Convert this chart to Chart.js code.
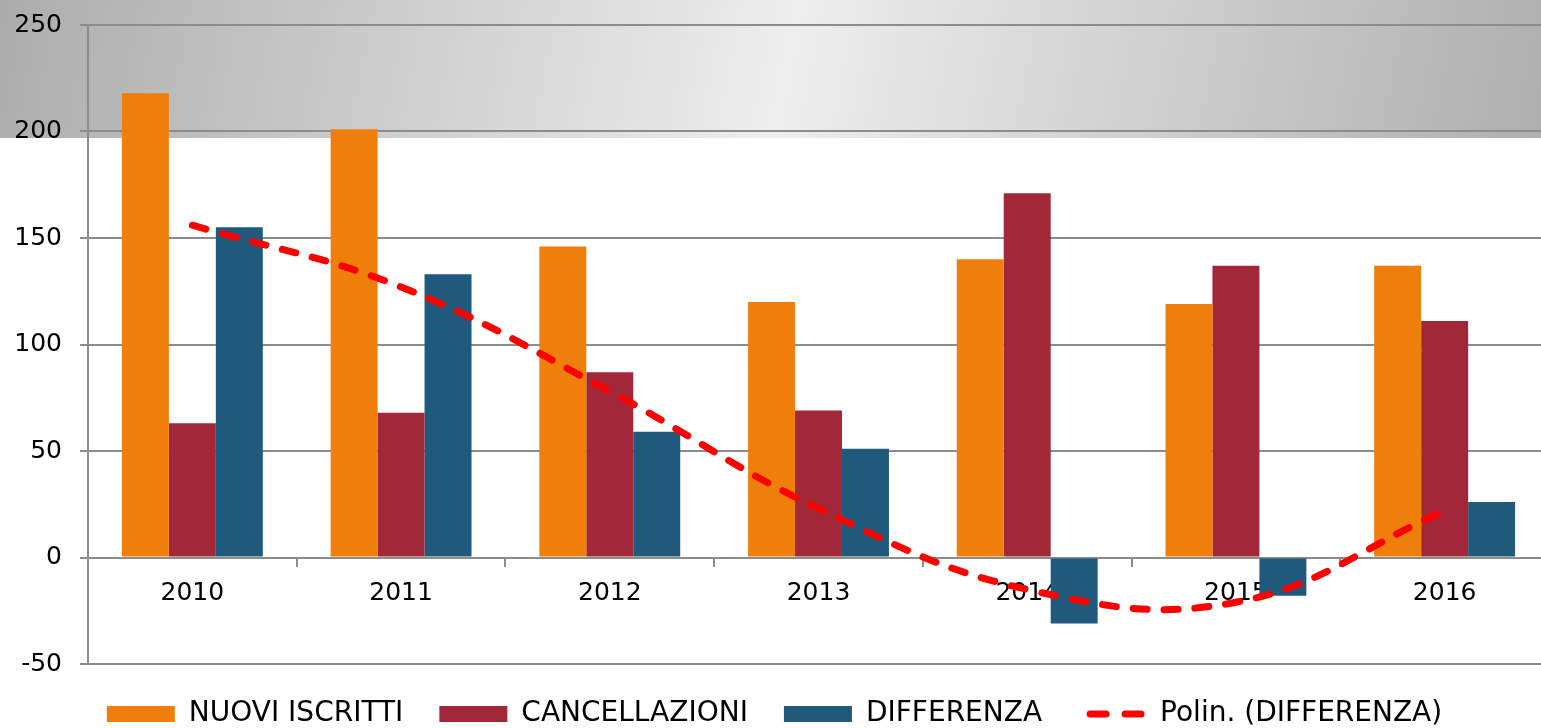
<!DOCTYPE html>
<html lang="it">
<head>
<meta charset="utf-8">
<title>Nuovi iscritti e cancellazioni 2010-2016</title>
<script src="https://cdn.jsdelivr.net/npm/chart.js@4.4.1/dist/chart.umd.min.js"></script>
<style>
  html, body { margin: 0; padding: 0; background: #fff; overflow: hidden; }
  canvas { display: block; }
</style>
</head>
<body>
<canvas id="chart" width="1560" height="728"></canvas>
<script>
// Values
const years = ['2010', '2011', '2012', '2013', '2014', '2015', '2016'];
const nuoviIscritti = [218, 201, 146, 120, 140, 119, 137];
const cancellazioni = [63, 68, 87, 69, 171, 137, 111];
const differenza = [155, 133, 59, 51, -31, -18, 26];
// polynomial trend line of DIFFERENZA, read at each year
const trendDifferenza = [156, 127, 78, 23, -15, -21, 22];
const yTicks = [-50, 0, 50, 100, 150, 200, 250];

const FONT = 'DejaVu Sans';

// grey gradient band across the top, like the original
const topBand = {
    id: 'topBand',
    beforeDraw(chart) {
        const ctx = chart.ctx;
        ctx.save();
        ctx.fillStyle = '#ffffff';
        ctx.fillRect(0, 0, chart.width, chart.height);
        const g = ctx.createLinearGradient(0, 0, 1541, 300);
        g.addColorStop(0, '#acacac');
        g.addColorStop(0.5, '#eeeeee');
        g.addColorStop(1, '#acacac');
        ctx.fillStyle = g;
        ctx.fillRect(0, 0, chart.width, 138);
        ctx.restore();
    }
};

const ctx = document.getElementById('chart').getContext('2d');

const chart = new Chart(ctx, {
    type: 'bar',
    data: {
        labels: years,
        datasets: [
            { label: 'NUOVI ISCRITTI', data: nuoviIscritti, backgroundColor: '#ef7f0a', order: 1 },
            { label: 'CANCELLAZIONI', data: cancellazioni, backgroundColor: '#a22839', order: 1 },
            { label: 'DIFFERENZA', data: differenza, backgroundColor: '#1f5a7c', order: 1 },
            {
                type: 'line',
                label: 'Polin. (DIFFERENZA)',
                data: trendDifferenza,
                borderColor: '#ff0000',
                borderWidth: 7,
                borderDash: [14, 17],
                borderCapStyle: 'round',
                tension: 0.4,
                pointRadius: 0,
                fill: false,
                order: 0
            }
        ]
    },
    options: {
        responsive: false,
        animation: false,
        layout: {
            padding: { top: 25, right: 11, bottom: -10, left: 0 }
        },
        datasets: {
            bar: { categoryPercentage: 0.675, barPercentage: 1 }
        },
        scales: {
            x: {
                position: { y: 0 },
                grid: {
                    drawOnChartArea: false,
                    drawTicks: true,
                    tickLength: 8,
                    color: '#8c8c8c',
                    lineWidth: 2,
                    offset: true
                },
                border: { color: '#8c8c8c', width: 2 },
                ticks: {
                    color: '#000',
                    font: { family: FONT, size: 25 },
                    padding: 13,
                    maxRotation: 0
                }
            },
            y: {
                min: yTicks[0],
                max: yTicks[yTicks.length - 1],
                ticks: {
                    stepSize: yTicks[1] - yTicks[0],
                    color: '#000',
                    font: { family: FONT, size: 25 },
                    padding: 18
                },
                grid: { color: '#8c8c8c', lineWidth: 2, tickLength: 8 },
                border: { color: '#8c8c8c', width: 2 },
                afterFit(scale) {
                    scale.width = 88;
                    // let the top label overflow the plot, as in the original
                    scale.paddingTop = 0;
                    scale.paddingBottom = 0;
                }
            }
        },
        plugins: {
            tooltip: { enabled: false },
            legend: {
                position: 'bottom',
                labels: {
                    usePointStyle: true,
                    pointStyleWidth: 68,
                    boxHeight: 16,
                    padding: 36,
                    color: '#000',
                    font: { family: FONT, size: 28 },
                    generateLabels(chart) {
                        return chart.data.datasets.map((ds, i) => {
                            const isLine = ds.type === 'line';
                            return {
                                text: ds.label,
                                datasetIndex: i,
                                fillStyle: isLine ? 'rgba(0,0,0,0)' : ds.backgroundColor,
                                strokeStyle: isLine ? ds.borderColor : ds.backgroundColor,
                                lineWidth: isLine ? 7 : 0,
                                lineDash: isLine ? [16, 19] : [],
                                lineDashOffset: isLine ? 23 : 0,
                                lineCap: 'round',
                                pointStyle: isLine ? 'line' : 'rect',
                                fontColor: '#000',
                                hidden: false
                            };
                        });
                    }
                }
            }
        }
    },
    plugins: [topBand]
});
</script>
</body>
</html>
